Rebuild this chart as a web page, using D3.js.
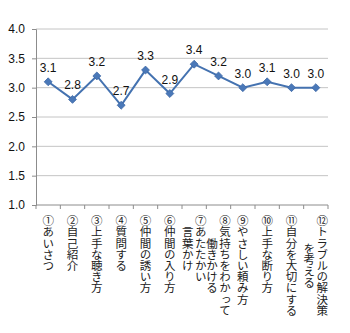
<!DOCTYPE html>
<html>
<head>
<meta charset="utf-8">
<script src="https://cdn.jsdelivr.net/npm/d3@7"></script>
<style>
  html, body { margin: 0; padding: 0; background: #fff; }
  svg { display: block; }
  .cat { font-family: "Noto Sans CJK JP", sans-serif; font-size: 11.5px; fill: #222; writing-mode: vertical-rl; }
</style>
</head>
<body>
<svg id="chart" width="350" height="333"></svg>
<script>
// Category labels, each split into its printed columns
const categories = [
  ["①あいさつ"],
  ["②自己紹介"],
  ["③上手な聴き方"],
  ["④質問する"],
  ["⑤仲間の誘い方"],
  ["⑥仲間の入り方"],
  ["⑦あたたかい", "言葉かけ"],
  ["⑧気持ちをわかって", "働きかける"],
  ["⑨やさしい頼み方"],
  ["⑩上手な断り方"],
  ["⑪自分を大切にする"],
  ["⑫トラブルの解決策", "を考える"]
];
const values = [3.1, 2.8, 3.2, 2.7, 3.3, 2.9, 3.4, 3.2, 3.0, 3.1, 3.0, 3.0];
const yTicks = [1.0, 1.5, 2.0, 2.5, 3.0, 3.5, 4.0];

const svg = d3.select("#chart");
const plotLeft = 36, plotRight = 328, plotTop = 29, plotBottom = 205;

const x = d3.scaleBand().domain(d3.range(categories.length)).range([plotLeft, plotRight]);
const y = d3.scaleLinear().domain([1, 4]).range([plotBottom, plotTop]);

// horizontal gridlines
svg.append("g").selectAll("line").data(yTicks.filter(d => d > 1)).join("line")
  .attr("x1", plotLeft).attr("x2", plotRight)
  .attr("y1", d => y(d)).attr("y2", d => y(d))
  .attr("stroke", "#c4c4c4").attr("stroke-width", 1);

// y axis
const yAxis = svg.append("g").attr("transform", `translate(${plotLeft},0)`)
  .call(d3.axisLeft(y).tickValues(yTicks).tickFormat(d3.format(".1f")).tickSize(4).tickPadding(7));
yAxis.select(".domain").attr("stroke", "#8c8c8c");
yAxis.selectAll(".tick line").attr("stroke", "#8c8c8c");
yAxis.selectAll("text").attr("font-family", "Liberation Sans, Arial, sans-serif").attr("font-size", 12).attr("fill", "#111");

// x axis line with ticks on category boundaries
const xg = svg.append("g");
xg.append("line").attr("x1", plotLeft).attr("x2", plotRight).attr("y1", plotBottom).attr("y2", plotBottom).attr("stroke", "#8c8c8c");
xg.selectAll("line.tk").data(d3.range(categories.length + 1)).join("line").attr("class", "tk")
  .attr("x1", i => plotLeft + i * x.step()).attr("x2", i => plotLeft + i * x.step())
  .attr("y1", plotBottom).attr("y2", plotBottom + 4).attr("stroke", "#8c8c8c");

// vertical category labels: one glyph per slot at a fixed pitch,
// wrapped columns centered against the longest one
const pitch = 11.2, colGap = 13, labelTop = 215;
categories.forEach((lines, i) => {
  const cx = x(i) + x.bandwidth() / 2;
  const maxLen = d3.max(lines, s => Array.from(s).length);
  lines.forEach((s, j) => {
    const chars = Array.from(s);
    const colX = cx + ((lines.length - 1) / 2 - j) * colGap;
    const off = (maxLen - chars.length) / 2 * pitch;
    chars.forEach((ch, k) => {
      svg.append("text").attr("class", "cat")
        .attr("x", colX).attr("y", labelTop + off + k * pitch)
        .text(ch);
    });
  });
});

// series line
const line = d3.line().x((d, i) => x(i) + x.bandwidth() / 2).y(d => y(d));
svg.append("path").datum(values).attr("d", line)
  .attr("fill", "none").attr("stroke", "#4472b0").attr("stroke-width", 2);

// diamond markers
svg.append("g").selectAll("path").data(values).join("path")
  .attr("transform", (d, i) => `translate(${x(i) + x.bandwidth() / 2},${y(d)})`)
  .attr("d", d3.symbol(d3.symbolDiamond2, 40))
  .attr("fill", "#4a78b8").attr("stroke", "#3d68a6").attr("stroke-width", 0.8);

// value labels
svg.append("g").selectAll("text").data(values).join("text")
  .attr("x", (d, i) => x(i) + x.bandwidth() / 2)
  .attr("y", d => y(d) - 10)
  .attr("text-anchor", "middle")
  .attr("font-family", "Liberation Sans, Arial, sans-serif").attr("font-size", 12).attr("fill", "#111")
  .text(d => d.toFixed(1));
</script>
</body>
</html>
